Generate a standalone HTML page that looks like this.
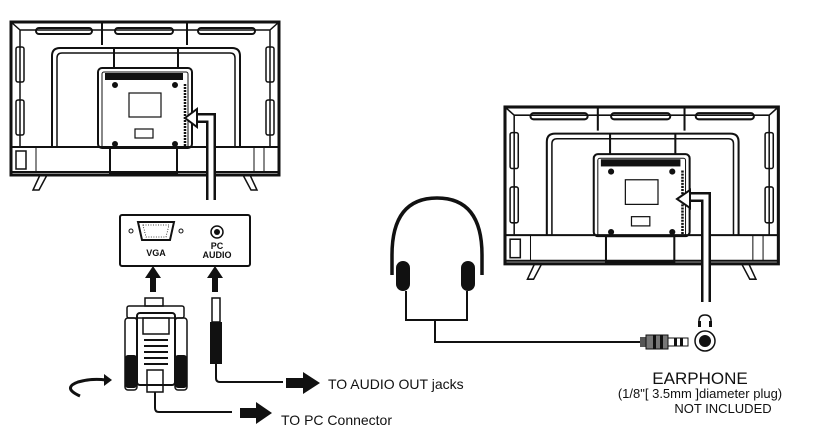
<!DOCTYPE html>
<html><head><meta charset="utf-8"><style>
html,body{margin:0;padding:0;background:#fff;}
svg{display:block;}
text{font-family:"Liberation Sans",Arial,sans-serif;fill:#111;}
</style></head><body>
<svg width="823" height="447" viewBox="0 0 823 447" xmlns="http://www.w3.org/2000/svg">
<defs>
<g id="tv" fill="none" stroke="#111">
  <rect x="0" y="0" width="268" height="153" stroke-width="3"/>
  <path d="M9 8 H259 V125 M9 8 V125 M0 0 L9 8 M268 0 L259 8" stroke-width="1.5"/>
  <rect x="25" y="6" width="56" height="6" rx="3" stroke-width="2"/>
  <rect x="104" y="6" width="58" height="6" rx="3" stroke-width="2"/>
  <rect x="187" y="6" width="57" height="6" rx="3" stroke-width="2"/>
  <path d="M91 0 V23 M176 0 V23" stroke-width="2"/>
  <path d="M41 125 V34 Q41 26 49 26 H221 Q229 26 229 34 V125" stroke-width="2"/>
  <path d="M46 125 V36 Q46 31 51 31 H219 Q224 31 224 36 V125" stroke-width="1.5"/>
  <path d="M103 26 V46 M167 26 V46" stroke-width="2"/>
  <rect x="5" y="25" width="8" height="35" rx="2" stroke-width="1.5"/>
  <rect x="5" y="78" width="8" height="35" rx="2" stroke-width="1.5"/>
  <rect x="255" y="25" width="8" height="35" rx="2" stroke-width="1.5"/>
  <rect x="255" y="78" width="8" height="35" rx="2" stroke-width="1.5"/>
  <rect x="87" y="46" width="94" height="80" rx="4" fill="#fff" stroke-width="2"/>
  <rect x="91" y="50" width="86" height="76" rx="2" stroke-width="1"/>
  <rect x="94" y="51" width="78" height="7" fill="#111" stroke="none"/>
  <rect x="118" y="71" width="32" height="24" stroke-width="1.2"/>
  <rect x="124" y="107" width="18" height="9" stroke-width="1.2"/>
  <circle cx="104" cy="63" r="2.5" fill="#111"/><circle cx="164" cy="63" r="2.5" fill="#111"/>
  <circle cx="104" cy="122" r="2.5" fill="#111"/><circle cx="164" cy="122" r="2.5" fill="#111"/>
  <path d="M174 62 V124" stroke-width="2.5" stroke-dasharray="2 1"/>
  <path d="M0 125 H268 M0 150 H268" stroke-width="2"/>
  <rect x="99" y="126" width="67" height="25" stroke-width="2"/>
  <rect x="5" y="129" width="10" height="18" stroke-width="1.5"/>
  <path d="M25 125 V150 M243 125 V150 M253 125 V150" stroke-width="1"/>
  <path d="M29 153 L22 168 H28 L36 153 M232 153 L240 168 H246 L239 153" stroke-width="1.5"/>
</g>
</defs>

<use href="#tv" transform="translate(11,22)"/>
<use href="#tv" transform="translate(505,107) scale(1.02,1.025)"/>

<path d="M211 200 V118 H194" fill="none" stroke="#111" stroke-width="10"/>
<path d="M211 201 V118 H194" fill="none" stroke="#fff" stroke-width="5"/>
<path d="M185 118 L197 109 L197 127 Z" fill="#fff" stroke="#111" stroke-width="2"/>
<path d="M706 302 V197 H690" fill="none" stroke="#111" stroke-width="10"/>
<path d="M706 303 V197 H690" fill="none" stroke="#fff" stroke-width="5"/>
<path d="M677 199 L690 190 L690 208 Z" fill="#fff" stroke="#111" stroke-width="2"/>

<rect x="120" y="215" width="130" height="51" rx="2" fill="none" stroke="#111" stroke-width="2"/>
<path d="M138 222 H174 L170 240 H142 Z" fill="none" stroke="#111" stroke-width="2"/>
<path d="M143 225 H169 L166 237 H146 Z" fill="none" stroke="#111" stroke-width="0.8" stroke-dasharray="1 1.5"/>
<circle cx="131" cy="231" r="2" fill="none" stroke="#111"/><circle cx="181" cy="231" r="2" fill="none" stroke="#111"/>
<text x="156" y="256" font-size="9" font-weight="bold" text-anchor="middle">VGA</text>
<circle cx="217" cy="232" r="6" fill="none" stroke="#111" stroke-width="1.5"/><circle cx="217" cy="232" r="3" fill="#111"/>
<text x="217" y="249" font-size="9" font-weight="bold" text-anchor="middle">PC</text>
<text x="217" y="258" font-size="9" font-weight="bold" text-anchor="middle">AUDIO</text>
<path d="M150 292 V278 H145 L153 266 L161 278 H156 V292 Z" fill="#111"/>
<path d="M212 292 V278 H207 L215 266 L223 278 H218 V292 Z" fill="#111"/>

<g fill="none" stroke="#111" stroke-width="1.5">
<rect x="145" y="298" width="18" height="8"/>
<rect x="127" y="306" width="57" height="12" rx="2"/>
<rect x="125" y="318" width="12" height="72" rx="3"/>
<rect x="175" y="318" width="12" height="72" rx="3"/>
<rect x="137" y="313" width="38" height="72" rx="3" stroke-width="2"/>
<rect x="143" y="318" width="26" height="16"/>
<path d="M144 340 H168 M144 346 H168 M144 352 H168 M144 358 H168 M144 364 H168" stroke-width="2"/>
<rect x="147" y="370" width="16" height="22"/>
</g>
<rect x="125" y="355" width="12" height="33" rx="3" fill="#111"/>
<rect x="175" y="355" width="12" height="33" rx="3" fill="#111"/>
<rect x="212" y="298" width="8" height="24" fill="none" stroke="#111" stroke-width="1.5"/>
<rect x="210" y="322" width="12" height="42" fill="#111"/>
<path d="M216 364 V378 Q216 382 220 382 H283" fill="none" stroke="#111" stroke-width="2"/>
<path d="M155 392 V408 Q155 412 159 412 H232" fill="none" stroke="#111" stroke-width="2"/>
<path d="M286 378 H303 V372 L320 383 L303 394 V388 H286 Z" fill="#111"/>
<path d="M240 408 H256 V402 L272 413 L256 424 V418 H240 Z" fill="#111"/>
<text x="328" y="389" font-size="14">TO AUDIO OUT jacks</text>
<text x="281" y="425" font-size="14">TO PC Connector</text>
<path d="M80 396 Q62 388 78 382 Q92 378 106 380" fill="none" stroke="#111" stroke-width="3"/>
<path d="M104 374 L112 380 L104 386 Z" fill="#111"/>

<path d="M392 275 V255 Q392 198 437 198 Q482 198 482 255 V275" fill="none" stroke="#111" stroke-width="3.5"/>
<rect x="396" y="261" width="14" height="30" rx="7" fill="#111"/>
<rect x="461" y="261" width="14" height="30" rx="7" fill="#111"/>
<path d="M406 291 V320 H467 V291 M435 320 V342 H640" fill="none" stroke="#111" stroke-width="2"/>
<rect x="640" y="337" width="6" height="10" fill="#555"/>
<rect x="646" y="335" width="22" height="14" fill="#777" stroke="#111"/>
<rect x="653" y="335" width="3" height="14" fill="#111"/><rect x="660" y="335" width="3" height="14" fill="#111"/>
<rect x="668" y="338" width="20" height="8" fill="none" stroke="#111"/>
<rect x="674" y="338" width="3" height="8" fill="#111"/><rect x="680" y="338" width="3" height="8" fill="#111"/>
<circle cx="705" cy="341" r="10" fill="none" stroke="#111" stroke-width="1.5"/>
<circle cx="705" cy="341" r="6" fill="#111"/>
<path d="M699 326 V321 Q699 315 705 315 Q711 315 711 321 V326" fill="none" stroke="#111" stroke-width="1.5"/>
<rect x="698" y="321" width="3" height="6" fill="#111"/><rect x="709" y="321" width="3" height="6" fill="#111"/>
<text x="700" y="384" font-size="17" text-anchor="middle">EARPHONE</text>
<text x="700" y="398" font-size="13" text-anchor="middle">(1/8"[ 3.5mm ]diameter plug)</text>
<text x="723" y="413" font-size="13" text-anchor="middle">NOT INCLUDED</text>
</svg>
</body></html>
